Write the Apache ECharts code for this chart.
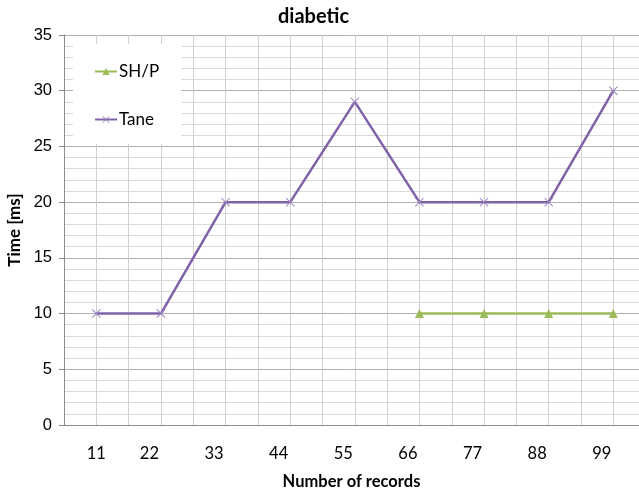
<!DOCTYPE html>
<html>
<head>
<meta charset="utf-8">
<script src="https://cdn.jsdelivr.net/npm/echarts@6/dist/echarts.min.js"></script>
<style>
  html, body { margin: 0; padding: 0; background: #fff; overflow: hidden; }
  #chart { width: 639px; height: 490px; }
</style>
</head>
<body>
<div id="chart"></div>
<script>
// Number of records on the x axis
const records = [11, 22, 33, 44, 55, 66, 77, 88, 99];
// Run times in ms (null where no measurement exists)
const shpTimes  = [null, null, null, null, null, 10, 10, 10, 10];
const taneTimes = [10, 10, 20, 20, 29, 20, 20, 20, 30];
// Y axis tick range
const yTicks = [0, 5, 10, 15, 20, 25, 30, 35];

const toPairs = vals => records.map((r, i) => [r, vals[i]]);

// Thin filled "x" marker
const crossPath = 'path://M0,0.8L0.8,0L5,4.2L9.2,0L10,0.8L5.8,5L10,9.2L9.2,10L5,5.8L0.8,10L0,9.2L4.2,5Z';

const purple = '#7f62a8';
const green = '#9bbb59';
const step = records[0] / 2;

const chart = echarts.init(document.getElementById('chart'));
chart.setOption({
  animation: false,
  title: {
    text: 'diabetic',
    left: 273, top: 2,
    textStyle: { fontFamily: 'Lato', fontWeight: 'bold', fontSize: 20, color: '#000' }
  },
  legend: {
    orient: 'vertical',
    left: 73, top: 44,
    padding: [19, 22, 16, 21],
    itemGap: 31,
    itemWidth: 22, itemHeight: 9,
    backgroundColor: '#fff',
    textStyle: { fontFamily: 'Lato', fontSize: 17, color: '#000', padding: [0, 0, 0, -3] },
    data: ['SH/P', 'Tane']
  },
  grid: { left: 64, top: 35, right: 0, bottom: 65, outerBoundsMode: 'none', containLabel: false },
  xAxis: {
    type: 'value',
    min: step,
    max: step + 575 / (517 / (records[records.length - 1] - records[0])),
    interval: step,
    name: 'Number of records',
    nameLocation: 'middle',
    nameGap: 48,
    nameTextStyle: { fontFamily: 'Lato', fontWeight: 'bold', fontSize: 16.5, color: '#000' },
    axisLine: { lineStyle: { color: '#8c8c8c', width: 1 } },
    axisTick: { show: false },
    splitLine: { show: true, lineStyle: { color: '#d0d0d0', width: 1 } },
    axisLabel: {
      margin: 20,
      showMaxLabel: false,
      hideOverlap: false,
      formatter: v => {
        const r = Math.round(v);
        if (Math.abs(v - r) > 1e-6 || records.indexOf(r) < 0) return '';
        return r === records[0] ? '{a|' + r + '}' : '{b|' + r + '}';
      },
      rich: {
        a: { fontFamily: 'Lato', fontSize: 16.5, color: '#000' },
        b: { fontFamily: 'Lato', fontSize: 16.5, color: '#000', padding: [0, 23, 0, 0] }
      }
    }
  },
  yAxis: {
    type: 'value',
    min: yTicks[0],
    max: yTicks[yTicks.length - 1],
    interval: yTicks[1] - yTicks[0],
    name: 'Time [ms]',
    nameLocation: 'middle',
    nameGap: 41,
    nameTextStyle: { fontFamily: 'Lato', fontWeight: 'bold', fontSize: 17, color: '#000' },
    axisLine: { show: true, lineStyle: { color: '#8c8c8c', width: 1 } },
    axisTick: { show: true, length: 5, lineStyle: { color: '#8c8c8c' } },
    axisLabel: {
      margin: 12,
      fontFamily: 'Liberation Sans', fontSize: 16.5, color: '#000',
      formatter: v => yTicks.indexOf(v) >= 0 ? String(v) : ''
    },
    splitLine: { show: true, lineStyle: { color: '#b0b0b0', width: 1 } },
    minorTick: { show: false, splitNumber: 5 },
    minorSplitLine: { show: true, lineStyle: { color: '#dadada', width: 1 } }
  },
  series: [
    {
      name: 'SH/P',
      type: 'line',
      data: toPairs(shpTimes),
      connectNulls: false,
      color: green,
      lineStyle: { color: green, width: 2.5 },
      itemStyle: { color: green },
      symbol: 'triangle',
      symbolSize: 9,
      z: 3
    },
    {
      name: 'Tane',
      type: 'line',
      data: toPairs(taneTimes),
      color: purple,
      lineStyle: { color: purple, width: 2.5 },
      itemStyle: { color: '#9a84c0' },
      symbol: crossPath,
      symbolSize: 9,
      z: 2
    }
  ]
});
</script>
</body>
</html>
